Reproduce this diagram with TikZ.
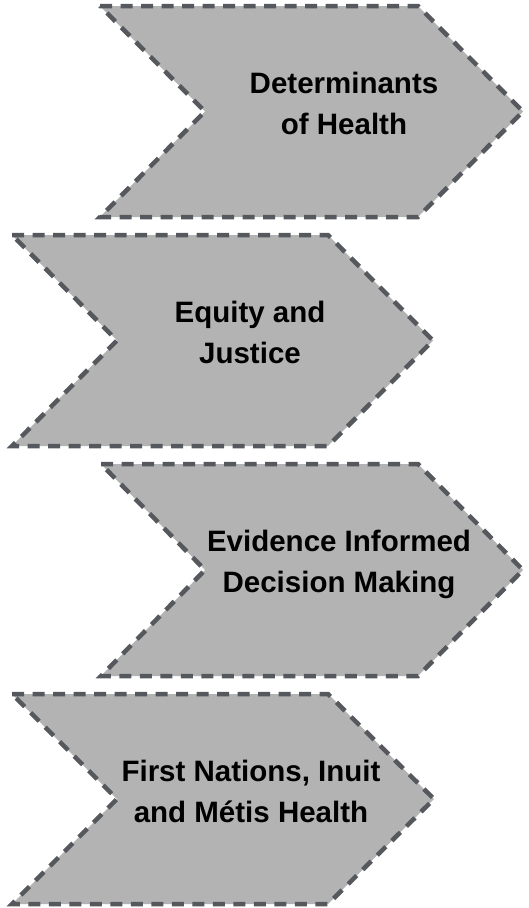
\documentclass[tikz,border=0pt]{standalone}
\usepackage{fontspec}
\setmainfont{Liberation Sans}
\usepackage{xcolor}
\definecolor{chevfill}{RGB}{179,179,179}
\definecolor{chevline}{RGB}{85,88,93}

\begin{document}
\begin{tikzpicture}[x=1pt,y=-1pt,
    chev/.style={fill=chevfill, draw=chevline, line width=4.5pt, dash pattern=on 12pt off 8.5pt},
    lbl/.style={font=\bfseries\fontsize{29.5}{41}\selectfont, align=center, inner sep=0pt, text height=62pt, text depth=0pt}]
    \useasboundingbox (0,0) rectangle (529,908);
    \draw[chev] (100,6) -- (418,6) -- (523,111.5) -- (418,217) -- (100,217) -- (205,111.5) -- cycle;
    \draw[chev] (12,235) -- (328,235) -- (433,340.5) -- (328,446) -- (12,446) -- (117,340.5) -- cycle;
    \draw[chev] (101,464) -- (418,464) -- (523,570) -- (418,676) -- (101,676) -- (205,570) -- cycle;
    \draw[chev] (12,694) -- (328,694) -- (434,799) -- (328,904) -- (12,904) -- (117,799) -- cycle;
    \node[lbl] (DH) at (344,103) {Determinants\\of Health};
    \node[lbl] (EJ) at (250,332) {Equity and\\Justice};
    \node[lbl] (EI) at (339,561) {Evidence Informed\\Decision Making};
    \node[lbl] (FN) at (251,791) {First Nations, Inuit\\and Métis Health};
\end{tikzpicture}
\end{document}
